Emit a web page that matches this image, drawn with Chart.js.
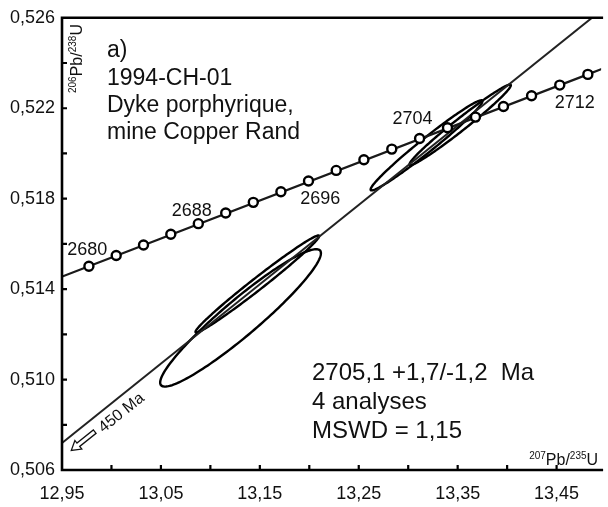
<!DOCTYPE html>
<html>
<head>
<meta charset="utf-8">
<script src="https://cdn.jsdelivr.net/npm/chart.js@4.4.1/dist/chart.umd.min.js"></script>
<style>
  html, body { margin: 0; padding: 0; background: #fff; }
  canvas { display: block; }
</style>
</head>
<body>
<canvas id="concordiaChart" width="608" height="507"></canvas>
<script>
// concordia points, every 2 Ma
const ages = [2678, 2680, 2682, 2684, 2686, 2688, 2690, 2692, 2694, 2696,
              2698, 2700, 2702, 2704, 2706, 2708, 2710, 2712, 2714];
const concX = [12.9772, 13.0048, 13.0324, 13.0600, 13.0878, 13.1155, 13.1434, 13.1713, 13.1992, 13.2272,
               13.2552, 13.2834, 13.3115, 13.3397, 13.3680, 13.3963, 13.4247, 13.4532, 13.4816];
const concY = [0.515014, 0.515484, 0.515954, 0.516425, 0.516895, 0.517366, 0.517837, 0.518308, 0.518779, 0.519250,
               0.519721, 0.520193, 0.520664, 0.521136, 0.521608, 0.522080, 0.522552, 0.523024, 0.523497];
const labelledAges = [2680, 2688, 2696, 2704, 2712];

// concordia curve continued to the plot edges
const concLineX = [12.93, 12.9772, 13.4816, 13.51];
const concLineY = [0.514212, 0.515014, 0.523497, 0.523983];

// discordia
const discX = [12.93, 13.50];
const discY = [0.506495, 0.526500];

// error ellipses: centre, half widths, correlation
const ellX = [13.1305, 13.1475, 13.3185, 13.3525];
const ellY = [0.512728, 0.514228, 0.520360, 0.521264];
const ellSx = [0.08126, 0.06253, 0.05652, 0.05128];
const ellSy = [0.003039, 0.002146, 0.001992, 0.001781];
const ellRho = [0.9412, 0.9878, 0.9804, 0.9822];

const xTicks = [12.95, 13.00, 13.05, 13.10, 13.15, 13.20, 13.25, 13.30, 13.35, 13.40, 13.45];
const xTickLabels = ["12,95", "", "13,05", "", "13,15", "", "13,25", "", "13,35", "", "13,45"];
const yTicks = [0.506, 0.508, 0.510, 0.512, 0.514, 0.516, 0.518, 0.520, 0.522, 0.524, 0.526];
const yTickLabels = ["0,506", "", "0,510", "", "0,514", "", "0,518", "", "0,522", "", "0,526"];

const sampleText = ["a)", "1994-CH-01", "Dyke porphyrique,", "mine Copper Rand"];
const resultText = ["2705,1 +1,7/-1,2  Ma", "4 analyses", "MSWD = 1,15"];

const FONT = "'Liberation Sans', Arial, sans-serif";
const INK = "#111";

// where each age label sits relative to its point: [dx, dy, align]
const ageLabelPos = {
    2680: [-9, -1, "right"],
    2688: [-14, 3, "right"],
    2696: [4, 34, "right"],
    2704: [-15, -4, "right"],
    2712: [-5, 23, "left"]
};

function toPts(xs, ys) {
    return xs.map((x, i) => ({ x: x, y: ys[i] }));
}

// draws the superscript isotope labels like 206Pb/238U
function drawIsotope(ctx, x, y, supA, mainA, supB, mainB, big, small) {
    let cx = x;
    const parts = [[supA, small, -6], [mainA, big, 0], [supB, small, -6], [mainB, big, 0]];
    parts.forEach(p => {
        ctx.font = p[1] + "px " + FONT;
        ctx.fillText(p[0], cx, y + p[2]);
        cx += ctx.measureText(p[0]).width;
    });
    return cx - x;
}

function isotopeWidth(ctx, supA, mainA, supB, mainB, big, small) {
    let w = 0;
    [[supA, small], [mainA, big], [supB, small], [mainB, big]].forEach(p => {
        ctx.font = p[1] + "px " + FONT;
        w += ctx.measureText(p[0]).width;
    });
    return w;
}

const concordiaPlugin = {
    id: "concordiaExtras",
    beforeDatasetsDraw(chart) {
        const ctx = chart.ctx;
        const xs = chart.scales.x, ys = chart.scales.y;
        const area = chart.chartArea;
        ctx.save();
        ctx.beginPath();
        ctx.rect(area.left, area.top, area.right - area.left, area.bottom - area.top);
        ctx.clip();
        ctx.strokeStyle = "#000";
        ctx.lineWidth = 2.4;
        for (let i = 0; i < ellX.length; i++) {
            const k = Math.sqrt(1 - ellRho[i] * ellRho[i]);
            ctx.beginPath();
            for (let s = 0; s <= 360; s += 2) {
                const t = s * Math.PI / 180;
                const vx = ellX[i] + ellSx[i] * Math.cos(t);
                const vy = ellY[i] + ellSy[i] * (ellRho[i] * Math.cos(t) + k * Math.sin(t));
                const px = xs.getPixelForValue(vx), py = ys.getPixelForValue(vy);
                if (s === 0) ctx.moveTo(px, py); else ctx.lineTo(px, py);
            }
            ctx.closePath();
            ctx.stroke();
        }
        ctx.restore();
    },
    afterDraw(chart) {
        const ctx = chart.ctx;
        const xs = chart.scales.x, ys = chart.scales.y;
        const area = chart.chartArea;
        ctx.save();

        // frame: left, bottom, top
        ctx.strokeStyle = "#000";
        ctx.lineWidth = 2.6;
        ctx.beginPath();
        ctx.moveTo(area.right + 2, area.top);
        ctx.lineTo(area.left, area.top);
        ctx.lineTo(area.left, area.bottom);
        ctx.lineTo(area.right + 2, area.bottom);
        ctx.stroke();

        // inner tick marks
        ctx.lineWidth = 2.2;
        ctx.beginPath();
        xs.ticks.forEach(t => {
            const px = xs.getPixelForValue(t.value);
            if (px <= area.left + 1) return;
            ctx.moveTo(px, area.bottom);
            ctx.lineTo(px, area.bottom - 5);
        });
        ys.ticks.forEach(t => {
            const py = ys.getPixelForValue(t.value);
            if (py >= area.bottom - 1 || py <= area.top + 1) return;
            ctx.moveTo(area.left, py);
            ctx.lineTo(area.left + 5, py);
        });
        ctx.stroke();

        ctx.fillStyle = INK;
        ctx.textBaseline = "alphabetic";

        // age labels on the concordia
        ctx.font = "18px " + FONT;
        labelledAges.forEach(a => {
            const i = ages.indexOf(a);
            const pos = ageLabelPos[a];
            ctx.textAlign = pos[2];
            ctx.fillText(String(a), xs.getPixelForValue(concX[i]) + pos[0], ys.getPixelForValue(concY[i]) + pos[1]);
        });

        // sample description
        ctx.textAlign = "left";
        ctx.font = "23px " + FONT;
        const sampleBase = [57, 85, 112, 139];
        sampleText.forEach((s, i) => ctx.fillText(s, 107, sampleBase[i]));

        // result
        ctx.font = "24px " + FONT;
        const resBase = [380, 409, 438];
        resultText.forEach((s, i) => ctx.fillText(s, 312, resBase[i]));

        // axis titles
        const xw = isotopeWidth(ctx, "207", "Pb/", "235", "U", 16, 10);
        drawIsotope(ctx, area.right - 3 - xw, 465, "207", "Pb/", "235", "U", 16, 10);
        ctx.save();
        ctx.translate(82, 93);
        ctx.rotate(-Math.PI / 2);
        drawIsotope(ctx, 0, 0, "206", "Pb/", "238", "U", 16, 10);
        ctx.restore();

        // lower intercept note and arrow, following the discordia
        const ang = Math.atan2(
            ys.getPixelForValue(discY[1]) - ys.getPixelForValue(discY[0]),
            xs.getPixelForValue(discX[1]) - xs.getPixelForValue(discX[0]));
        ctx.save();
        ctx.translate(121.5, 413);
        ctx.rotate(ang);
        ctx.font = "16px " + FONT;
        ctx.textAlign = "center";
        ctx.textBaseline = "middle";
        ctx.fillText("450 Ma", 0, 0);
        ctx.restore();

        ctx.save();
        ctx.translate(83, 441);
        ctx.rotate(ang);
        ctx.beginPath();
        ctx.moveTo(-15, 0);
        ctx.lineTo(-6, -5.5);
        ctx.lineTo(-6, -2.2);
        ctx.lineTo(15, -2.2);
        ctx.lineTo(15, 2.2);
        ctx.lineTo(-6, 2.2);
        ctx.lineTo(-6, 5.5);
        ctx.closePath();
        ctx.fillStyle = "#fff";
        ctx.fill();
        ctx.strokeStyle = "#111";
        ctx.lineWidth = 1.3;
        ctx.stroke();
        ctx.restore();

        ctx.restore();
    }
};

const ctx = document.getElementById("concordiaChart").getContext("2d");
new Chart(ctx, {
    type: "scatter",
    data: {
        datasets: [
            {
                label: "Concordia points",
                data: toPts(concX, concY),
                showLine: false,
                pointRadius: 4.5,
                pointBorderWidth: 2.4,
                pointBackgroundColor: "#fff",
                pointBorderColor: "#000",
                clip: 0
            },
            {
                label: "Concordia",
                data: toPts(concLineX, concLineY),
                showLine: true,
                borderColor: "#1a1a1a",
                borderWidth: 2.2,
                pointRadius: 0,
                clip: 0
            },
            {
                label: "Discordia",
                data: toPts(discX, discY),
                showLine: true,
                borderColor: "#222",
                borderWidth: 2,
                pointRadius: 0,
                clip: 0
            }
        ]
    },
    options: {
        responsive: false,
        animation: false,
        devicePixelRatio: 1,
        layout: { padding: { top: 16, right: 1, left: 0, bottom: 0 } },
        plugins: {
            legend: { display: false },
            tooltip: { enabled: false }
        },
        scales: {
            x: {
                type: "linear",
                min: 12.95,
                max: 13.495,
                grid: { display: false, drawTicks: false },
                border: { display: false },
                afterBuildTicks: scale => { scale.ticks = xTicks.map(v => ({ value: v })); },
                afterFit: scale => { scale.height = 37; },
                ticks: {
                    autoSkip: false,
                    maxRotation: 0,
                    padding: 13,
                    color: INK,
                    font: { family: FONT, size: 18 },
                    callback: (value, index) => xTickLabels[index]
                }
            },
            y: {
                type: "linear",
                min: 0.506,
                max: 0.526,
                grid: { display: false, drawTicks: false },
                border: { display: false },
                afterBuildTicks: scale => { scale.ticks = yTicks.map(v => ({ value: v })); },
                afterFit: scale => { scale.width = 62; },
                ticks: {
                    autoSkip: false,
                    padding: 7,
                    color: INK,
                    font: { family: FONT, size: 18 },
                    callback: (value, index) => yTickLabels[index]
                }
            }
        }
    },
    plugins: [concordiaPlugin]
});
</script>
</body>
</html>
